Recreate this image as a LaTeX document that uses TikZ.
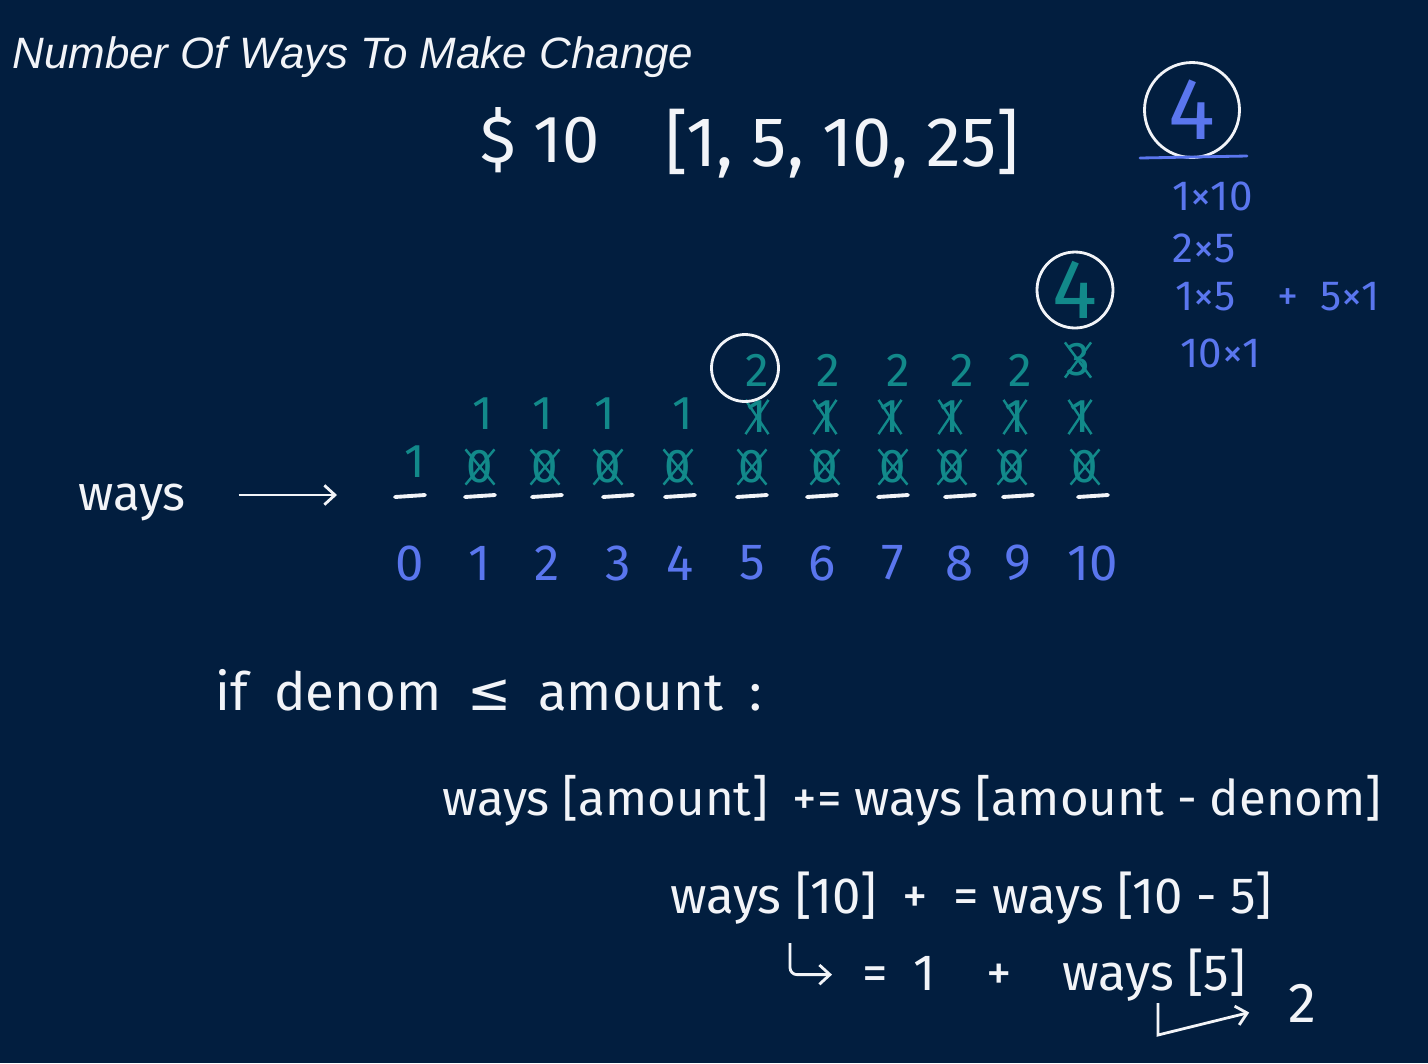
\documentclass[tikz,border=0pt]{standalone}
\usepackage{fontspec}
\setmainfont{Fira Sans}
\newfontfamily\titlefont{Liberation Sans}
\newfontfamily\symfont{DejaVu Sans}
\usetikzlibrary{shapes.misc,arrows.meta}
\definecolor{board}{HTML}{021E3F}
\definecolor{chalk}{HTML}{F2F4F8}
\definecolor{sea}{HTML}{12898A}
\definecolor{ink}{HTML}{5A76EE}
\newcommand{\fs}[1]{\fontsize{#1}{#1}\selectfont}

\begin{document}
\begin{tikzpicture}[x=0.02cm, y=-0.02cm, inner sep=0pt,
    hand/.style={text=chalk, anchor=base west, font=\fs{29}},
    cell/.style={text=sea, font=\fs{27}},
    struck/.style={cell, cross out, draw=sea, line width=1.4pt},
    ring/.style={circle, draw=chalk, line width=1.6pt},
    barb/.style={->, >={Straight Barb[length=6pt,width=11pt]}, line width=1.6pt, chalk}]
  \fill[board] (0,0) rectangle (1428,1063);
  \useasboundingbox (0,0) rectangle (1428,1063);

  \node[text=chalk, anchor=base west, font=\titlefont\itshape\fs{25}] (title) at (12,68)
        {Number Of Ways To Make Change};
  \node[hand, font=\fs{38}] (amount) at (480,162) {\$ 10};
  \node[hand, font=\fs{40}] (coins) at (665,166) {[1, 5, 10, 25]};

  % the answer and its four combinations
  \node[ring, minimum size=1.9cm, text=ink, font=\fs{50}] (ans) at (1192,110) {4};
  \draw[ink, line width=1.6pt, line cap=round] (1140,158) -- (1247,156);
  \node[text=ink, anchor=base west, font=\fs{24}] (combo1) at (1172,210) {1×10};
  \node[text=ink, anchor=base west, font=\fs{24}] (combo2) at (1172,262) {2×5};
  \node[text=ink, anchor=base west, font=\fs{24}] (combo3) at (1175,310) {1×5\quad +\enspace 5×1};
  \node[text=ink, anchor=base west, font=\fs{24}] (combo4) at (1180,367) {10×1};

  % ways table
  \foreach \x [count=\i from 0] in {410,480,547,618,680,752,822,893,960,1018,1093}{
    \node[text=ink, font=\fs{29}] (idx\i) at (\x,563) {\i};
    \draw[chalk, line width=2.2pt, line cap=round] (\x-15,497) -- (\x+15,495);}
  \node[cell] (base0) at (415,462) {1};
  \foreach \x [count=\i] in {480,545,608,678,752,825,893,952,1012,1085}
    \node[struck] (base\i) at (\x,467) {0};
  \foreach \x [count=\i] in {483,543,605,683}
    \node[cell] (plus\i) at (\x,414) {1};
  \foreach \x [count=\i from 5] in {757,825,890,950,1015,1080}
    \node[struck] (plus\i) at (\x,417) {1};
  \foreach \x [count=\i from 5] in {757,828,898,962,1020}
    \node[cell] (dime\i) at (\x,370) {2};
  \node[struck] (dime10) at (1078,360) {3};
  \node[ring, minimum size=1.34cm] (ring5) at (745,368) {};
  \node[ring, minimum size=1.52cm, text=sea, font=\fs{48}] (ring10) at (1075,290) {4};

  \node[hand, font=\fs{28}] (ways) at (78,510) {ways};
  \coordinate (wend) at (337,495);
  \draw[barb, shorten <=1.05cm] (ways.east |- wend) -- (wend);

  % recurrence
  \node[hand, font=\fs{30}] (cond) at (215,710) {if\enspace denom\enspace {\symfont ≤}\enspace amount\enspace :};
  \node[hand, font=\fs{28}] (rule) at (442,815) {ways [amount]\enspace += ways [amount - denom]};
  \node[hand] (case) at (670,913) {ways [10]\enspace +\enspace = ways [10 - 5]};
  \node[hand] (step1) at (862,990) {=\enspace 1\enspace\enspace +\enspace\enspace ways [5]};
  \node[hand, font=\fs{32}] (two) at (1288,1022) {2};
  \coordinate (hook1) at (790,943);
  \coordinate (hook2) at (1158,1003);
  \draw[barb, rounded corners=4pt, shorten >=0.6cm] (hook1) |- (step1.west);
  \draw[barb, shorten >=0.8cm] (hook2) -- ++(0,32) -- (two.west);
\end{tikzpicture}
\end{document}
